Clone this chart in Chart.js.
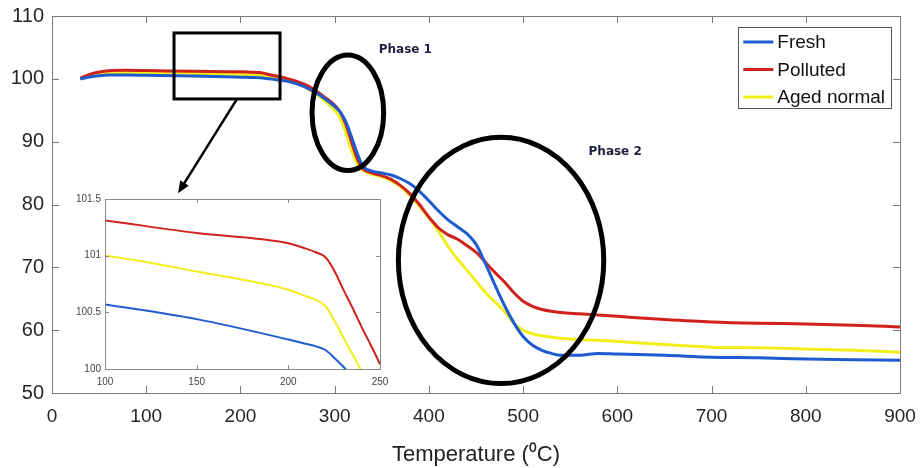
<!DOCTYPE html>
<html>
<head>
<meta charset="utf-8">
<script src="https://cdn.jsdelivr.net/npm/chart.js@4.4.1/dist/chart.umd.min.js"></script>
<style>
  html, body { margin: 0; padding: 0; background: #fff; }
  #wrap { position: relative; width: 922px; height: 468px; }
  #main { position: absolute; left: 0; top: 0; }
  #inset { position: absolute; left: 70px; top: 190px; }
</style>
</head>
<body>
<div id="wrap">
  <canvas id="main" width="922" height="468"></canvas>
  <canvas id="inset" width="320" height="200"></canvas>
</div>
<script>
// Temperature (deg C) and weight (%)
const temps = [30, 40, 50, 60, 80, 100, 150, 200, 210, 215, 220, 225, 230, 235, 240, 245, 250, 260, 270, 280,
  290, 300, 306, 312, 318, 324, 330, 340, 350, 360, 370, 380, 390, 400, 410, 420, 430, 440, 450, 460,
  470, 480, 490, 500, 510, 520, 530, 540, 560, 580, 600, 650, 700, 750, 800, 850, 900];

const fresh = [100.0, 100.3, 100.5, 100.6, 100.62, 100.57, 100.44, 100.26, 100.22, 100.20, 100.17, 100.10, 100.02, 99.93, 99.83, 99.72, 99.6, 99.2, 98.6, 97.8,
  96.8, 95.6, 94.7, 93.1, 90.7, 88.1, 86.1, 85.3, 85.0, 84.7, 84.1, 83.3, 82.1, 80.6, 79.0, 77.6, 76.5, 75.4, 73.7, 70.6,
  67.2, 64.0, 61.2, 59.0, 57.6, 56.8, 56.3, 56.0, 56.0, 56.3, 56.2, 56.0, 55.7, 55.6, 55.4, 55.3, 55.2];

const polluted = [100.1, 100.7, 101.1, 101.3, 101.35, 101.31, 101.2, 101.11, 101.06, 101.03, 100.99, 100.87, 100.70, 100.54, 100.37, 100.21, 100.04, 99.6, 99.0, 98.1,
  97.0, 95.8, 94.7, 92.7, 89.9, 87.3, 85.7, 85.0, 84.6, 84.0, 83.0, 81.7, 80.0, 78.0, 76.3, 75.2, 74.5, 73.5, 72.4, 70.8,
  69.2, 67.7, 66.0, 64.6, 63.8, 63.3, 63.0, 62.8, 62.6, 62.4, 62.2, 61.7, 61.3, 61.1, 61.0, 60.8, 60.5];

const aged = [100.0, 100.5, 100.8, 100.95, 101.02, 101.0, 100.86, 100.70, 100.64, 100.61, 100.56, 100.43, 100.28, 100.13, 99.98, 99.83, 99.67, 99.3, 98.6, 97.6,
  96.4, 95.0, 93.7, 91.4, 88.6, 86.5, 85.4, 84.8, 84.4, 83.8, 82.8, 81.4, 79.7, 77.9, 75.8, 73.4, 71.4, 69.6, 67.8, 66.0,
  64.5, 63.0, 61.1, 60.0, 59.4, 59.1, 58.9, 58.7, 58.5, 58.4, 58.2, 57.7, 57.3, 57.2, 57.0, 56.8, 56.5];

const seriesNames = ["Fresh", "Polluted", "Aged normal"];
const seriesColors = ["#1f5bd0", "#d0221c", "#f2ee1c"];

const pts = vals => temps.map((t, i) => ({ x: t, y: vals[i] }));

function makeDatasets(width) {
  return [fresh, polluted, aged].map((vals, i) => ({
    label: seriesNames[i],
    data: pts(vals),
    borderColor: seriesColors[i],
    borderWidth: width,
    pointRadius: 0,
    cubicInterpolationMode: 'monotone',
    fill: false
  }));
}

// keep the plot area exactly where the padding puts it
function noOverflow(s) {
  s.paddingLeft = 0; s.paddingRight = 0; s.paddingTop = 0; s.paddingBottom = 0;
}

// box around the plot area with inward ticks (matlab style)
const boxTicks = {
  id: 'boxTicks',
  afterDraw(chart, args, opts) {
    const { ctx, chartArea: a, scales: { x, y } } = chart;
    const len = opts.len || 6;
    ctx.save();
    ctx.strokeStyle = opts.color || '#7a7a7a';
    ctx.lineWidth = 1;
    ctx.strokeRect(Math.round(a.left) + 0.5, Math.round(a.top) + 0.5, Math.round(a.right - a.left), Math.round(a.bottom - a.top));
    ctx.beginPath();
    x.ticks.forEach(t => {
      const px = Math.round(x.getPixelForValue(t.value)) + 0.5;
      ctx.moveTo(px, a.bottom); ctx.lineTo(px, a.bottom - len);
      ctx.moveTo(px, a.top); ctx.lineTo(px, a.top + len);
    });
    y.ticks.forEach(t => {
      const py = Math.round(y.getPixelForValue(t.value)) + 0.5;
      ctx.moveTo(a.left, py); ctx.lineTo(a.left + len, py);
      ctx.moveTo(a.right, py); ctx.lineTo(a.right - len, py);
    });
    ctx.stroke();
    ctx.restore();
  }
};

const whiteArea = {
  id: 'whiteArea',
  beforeDraw(chart) {
    const { ctx, chartArea: a } = chart;
    ctx.save();
    ctx.fillStyle = '#fff';
    ctx.fillRect(a.left, a.top, a.right - a.left, a.bottom - a.top);
    ctx.restore();
  }
};

// zoom box, arrow, phase ellipses and legend, placed in data units
const marks = {
  id: 'marks',
  afterDraw(chart) {
    const { ctx, chartArea: a, scales: { x, y } } = chart;
    const X = v => x.getPixelForValue(v), Y = v => y.getPixelForValue(v);
    ctx.save();
    ctx.strokeStyle = '#000';
    ctx.fillStyle = '#000';

    ctx.lineWidth = 3;
    ctx.strokeRect(X(129.5), Y(107.3), X(242) - X(129.5), Y(96.8) - Y(107.3));

    // arrow to the inset
    const x0 = X(196.4), y0 = Y(96.8), x1 = X(133.8), y1 = Y(81.8);
    const ang = Math.atan2(y1 - y0, x1 - x0);
    ctx.lineWidth = 2.5;
    ctx.beginPath();
    ctx.moveTo(x0, y0);
    ctx.lineTo(x1 - 8 * Math.cos(ang), y1 - 8 * Math.sin(ang));
    ctx.stroke();
    ctx.beginPath();
    ctx.moveTo(x1, y1);
    ctx.lineTo(x1 - 12 * Math.cos(ang) + 5 * Math.sin(ang), y1 - 12 * Math.sin(ang) - 5 * Math.cos(ang));
    ctx.lineTo(x1 - 12 * Math.cos(ang) - 5 * Math.sin(ang), y1 - 12 * Math.sin(ang) + 5 * Math.cos(ang));
    ctx.closePath();
    ctx.fill();

    ctx.lineWidth = 5;
    ctx.beginPath();
    ctx.ellipse(X(314), Y(94.6), X(352) - X(314), Y(94.6 - 9.2) - Y(94.6), 0, 0, Math.PI * 2);
    ctx.stroke();
    ctx.beginPath();
    ctx.ellipse(X(476.6), Y(71.1), X(585.6) - X(476.6), Y(71.1 - 19.6) - Y(71.1), 0, 0, Math.PI * 2);
    ctx.stroke();

    ctx.fillStyle = '#1f1f3f';
    ctx.font = 'bold 12px "DejaVu Sans"';
    ctx.textAlign = 'center';
    ctx.textBaseline = 'middle';
    ctx.fillText('Phase 1', X(375), Y(104.6));
    ctx.fillText('Phase 2', X(597.7), Y(88.3));

    // legend
    ctx.font = '19px "Liberation Sans", Arial, sans-serif';
    const ds = chart.data.datasets;
    const tw = Math.max(...ds.map(d => ctx.measureText(d.label).width));
    const bw = 5 + 30 + 4 + tw + 6, bh = 81;
    const bx = a.right - 9 - bw, by = a.top + 11;
    ctx.fillStyle = '#fff';
    ctx.fillRect(bx, by, bw, bh);
    ctx.strokeStyle = '#555';
    ctx.lineWidth = 1;
    ctx.strokeRect(Math.round(bx) + 0.5, Math.round(by) + 0.5, Math.round(bw), bh);
    ctx.textAlign = 'left';
    ds.forEach((d, i) => {
      const ly = by + 15 + i * 27.5;
      ctx.strokeStyle = d.borderColor;
      ctx.lineWidth = 3;
      ctx.beginPath();
      ctx.moveTo(bx + 5, ly); ctx.lineTo(bx + 35, ly);
      ctx.stroke();
      ctx.fillStyle = '#111';
      ctx.fillText(d.label, bx + 39, ly + 1);
    });
    ctx.restore();
  }
};

new Chart(document.getElementById("main"), {
  type: 'line',
  data: { datasets: makeDatasets(3) },
  options: {
    responsive: false,
    animation: false,
    devicePixelRatio: 1,
    layout: { padding: { top: 16, right: 22, left: 0, bottom: 0 } },
    plugins: {
      legend: { display: false },
      tooltip: { enabled: false },
      boxTicks: { len: 7, color: '#7a7a7a' }
    },
    scales: {
      x: {
        type: 'linear', min: 0, max: 900,
        grid: { display: false, drawTicks: false },
        border: { display: false },
        ticks: { stepSize: 100, padding: 12, color: '#262626', font: { family: '"Liberation Sans", Arial, sans-serif', size: 19 } },
        title: { display: true, text: 'Temperature (\u2070C)', color: '#222', padding: { top: 0, bottom: 0 },
          font: { family: '"Liberation Sans", Arial, sans-serif', size: 22 } },
        afterFit(s) { s.height = 75; noOverflow(s); }
      },
      y: {
        min: 50, max: 110,
        grid: { display: false, drawTicks: false },
        border: { display: false },
        ticks: { stepSize: 10, padding: 8, color: '#262626', font: { family: '"Liberation Sans", Arial, sans-serif', size: 20 } },
        afterFit(s) { s.width = 52; noOverflow(s); }
      }
    }
  },
  plugins: [boxTicks, marks]
});

// Inset: same data zoomed on 100-250 deg C
new Chart(document.getElementById("inset"), {
  type: 'line',
  data: { datasets: makeDatasets(2) },
  options: {
    responsive: false,
    animation: false,
    devicePixelRatio: 1,
    layout: { padding: { top: 9, right: 10, left: 0, bottom: 0 } },
    plugins: {
      legend: { display: false },
      tooltip: { enabled: false },
      boxTicks: { len: 4, color: '#8a8a8a' }
    },
    scales: {
      x: {
        type: 'linear', min: 100, max: 250,
        grid: { display: false, drawTicks: false },
        border: { display: false },
        ticks: { stepSize: 50, padding: 7, color: '#444', font: { family: '"Liberation Sans", Arial, sans-serif', size: 10 } },
        afterFit(s) { s.height = 21; noOverflow(s); }
      },
      y: {
        min: 100, max: 101.5,
        grid: { display: false, drawTicks: false },
        border: { display: false },
        ticks: { stepSize: 0.5, padding: 4, color: '#444', callback: v => String(v),
          font: { family: '"Liberation Sans", Arial, sans-serif', size: 10 } },
        afterFit(s) { s.width = 35; noOverflow(s); }
      }
    }
  },
  plugins: [whiteArea, boxTicks]
});
</script>
</body>
</html>
